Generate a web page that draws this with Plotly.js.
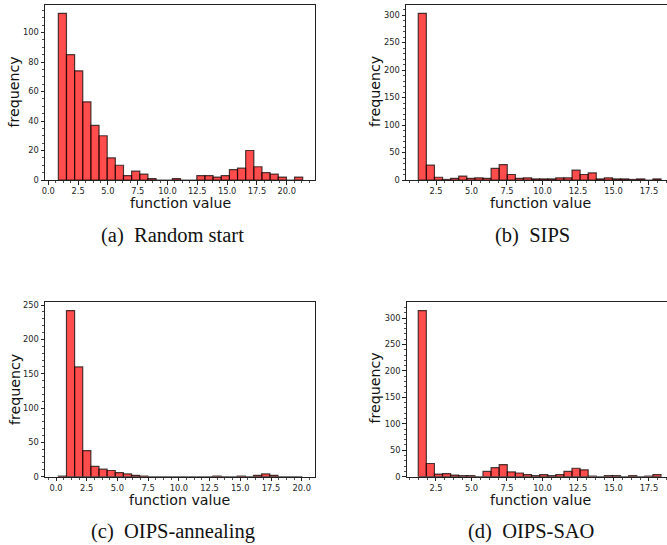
<!DOCTYPE html>
<html>
<head>
<meta charset="utf-8">
<script src="https://cdn.plot.ly/plotly-3.0.1.min.js"></script>
<style>html,body{margin:0;padding:0;background:#fff;}#chart{width:667px;height:545px;}</style>
</head>
<body>
<div id="chart"></div>
<script>
// ---- data (histogram counts, 30 bins each) ----
const captions = ["(a)\u00a0\u00a0Random start", "(b)\u00a0\u00a0SIPS", "(c)\u00a0\u00a0OIPS-annealing", "(d)\u00a0\u00a0OIPS-SAO"];
const xLabel = "function value";
const yLabel = "frequency";

// bin geometry (data units): first edge, bin width
const binStartA = 0.84, binWidthA = 0.6833;
const binStartB = 1.25, binWidthB = 0.570;
const binStartC = 0.19, binWidthC = 0.662;
const binStartD = 1.25, binWidthD = 0.570;

const countsA = [113, 85, 74, 53, 37, 30, 15, 10, 3, 6, 4, 1, 0, 0, 1, 0, 0, 3, 3, 2, 3, 7, 8, 20, 9, 5, 4, 2, 0, 2];
const countsB = [303, 27, 5, 1, 3, 7, 3, 4, 3, 21, 28, 10, 3, 4, 2, 2, 2, 4, 4, 18, 10, 13, 2, 4, 2, 2, 1, 2, 0, 2];
const countsC = [1, 242, 160, 38, 15, 11, 9, 6, 4, 2, 1, 0, 0, 0, 0, 0, 0, 0, 0, 1, 0, 0, 1, 0, 2, 4, 2, 0, 0, 0];
const countsD = [314, 25, 5, 6, 3, 2, 2, 0, 10, 17, 23, 9, 7, 4, 2, 4, 2, 4, 10, 16, 13, 1, 0, 2, 2, 0, 2, 0, 1, 4];

// ---- figure geometry ----
const W = 667, H = 545;
const fx = p => p / W;          // pixel -> paper x
const fy = p => 1 - p / H;      // pixel (from top) -> paper y

function centers(start, width, n) {
  const out = [];
  for (let i = 0; i < n; i++) out.push(start + (i + 0.5) * width);
  return out;
}

function barTrace(counts, start, width, xa, ya) {
  return {
    type: 'bar',
    x: centers(start, width, counts.length),
    y: counts,
    width: width,
    xaxis: xa, yaxis: ya,
    marker: {color: 'rgba(255,0,0,0.7)', line: {color: 'rgba(0,0,0,0.7)', width: 1.2}},
    hoverinfo: 'x+y',
    showlegend: false
  };
}

const tickFont = {family: 'DejaVu Sans', size: 8.3, color: '#262626'};
const axCol = '#222';

function xAxis(domain, range) {
  return {
    domain: domain, range: range,
    showline: true, linecolor: axCol, linewidth: 1, mirror: true,
    showgrid: false, zeroline: false,
    ticks: 'outside', ticklen: 3.5, tickwidth: 1, tickcolor: axCol,
    tick0: 0, dtick: 2.5, tickformat: '.1f', tickfont: tickFont,
    minor: {ticks: 'outside', ticklen: 2, tickwidth: 0.8, tickcolor: axCol, tick0: 0, dtick: 0.625, showgrid: false}
  };
}
function yAxis(domain, range, dtick, minor, mirror) {
  return {
    domain: domain, range: range,
    showline: true, linecolor: axCol, linewidth: 1, mirror: mirror,
    showgrid: false, zeroline: false,
    ticks: 'outside', ticklen: 3.5, tickwidth: 1, tickcolor: axCol,
    tick0: 0, dtick: dtick, tickfont: tickFont,
    minor: {ticks: 'outside', ticklen: 2, tickwidth: 0.8, tickcolor: axCol, tick0: 0, dtick: minor, showgrid: false}
  };
}

const topDom = [fy(180), fy(5)];
const botDom = [fy(476.7), fy(302.3)];

const data = [
  barTrace(countsA, binStartA, binWidthA, 'x', 'y'),
  barTrace(countsB, binStartB, binWidthB, 'x2', 'y2'),
  barTrace(countsC, binStartC, binWidthC, 'x3', 'y3'),
  barTrace(countsD, binStartD, binWidthD, 'x4', 'y4')
];

const xa = xAxis([fx(45), fx(315)], [-0.277, 22.37]); xa.anchor = 'y';
const xb = xAxis([fx(406), 1], [0.387, 18.77]); xb.anchor = 'y2';
const xc = xAxis([fx(45), fx(315)], [-0.895, 21.08]); xc.anchor = 'y3';
const xd = xAxis([fx(406.7), 1], [0.437, 18.77]); xd.anchor = 'y4';

const ya = yAxis(topDom, [0, 118.65], 20, 5, true); ya.anchor = 'x';
const yb = yAxis(topDom, [0, 318.2], 50, 10, false); yb.anchor = 'x2';
const yc = yAxis(botDom, [0, 254.1], 50, 10, true); yc.anchor = 'x3';
const yd = yAxis(botDom, [0, 329.7], 50, 10, false); yd.anchor = 'x4';

const labFont = {family: 'DejaVu Sans', size: 14.2, color: '#111'};
const capFont = {family: 'Liberation Serif', size: 20.5, color: '#111'};

function ann(text, px, py, font, angle) {
  return {text: text, x: fx(px), y: fy(py), xref: 'paper', yref: 'paper',
          xanchor: 'center', yanchor: 'middle', showarrow: false, font: font,
          textangle: angle || 0};
}

const annotations = [
  ann(yLabel, 14, 92.5, labFont, -90),
  ann(yLabel, 375, 92, labFont, -90),
  ann(yLabel, 15, 390, labFont, -90),
  ann(yLabel, 374, 388.5, labFont, -90),
  ann(xLabel, 180.5, 203, labFont),
  ann(xLabel, 540.5, 203, labFont),
  ann(xLabel, 179.7, 500, labFont),
  ann(xLabel, 540.5, 500, labFont),
  ann(captions[0], 172.5, 235.5, capFont),
  ann(captions[1], 532, 235, capFont),
  ann(captions[2], 172.5, 531.5, capFont),
  ann(captions[3], 531, 531, capFont)
];

const layout = {
  width: W, height: H,
  margin: {l: 0, r: 0, t: 0, b: 0, pad: 0},
  paper_bgcolor: '#fff', plot_bgcolor: '#fff',
  showlegend: false,
  xaxis: xa, yaxis: ya,
  xaxis2: xb, yaxis2: yb,
  xaxis3: xc, yaxis3: yc,
  xaxis4: xd, yaxis4: yd,
  annotations: annotations
};

Plotly.newPlot('chart', data, layout, {displayModeBar: false, staticPlot: true});
</script>
</body>
</html>
